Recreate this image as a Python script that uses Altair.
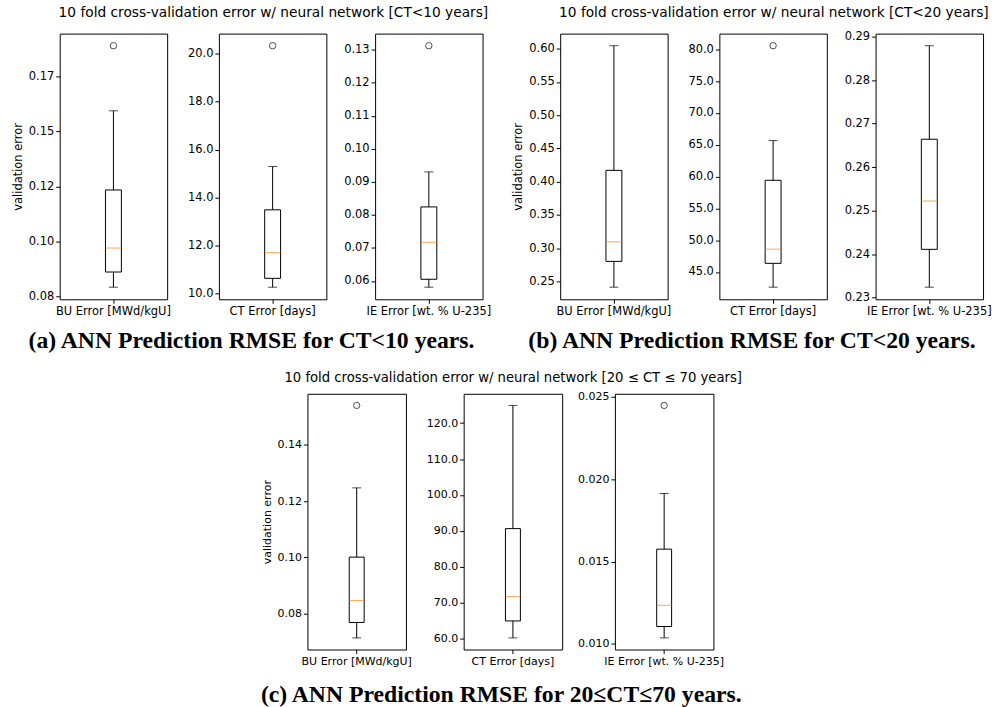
import json
import altair as alt
import pandas as pd

# ---------------- data ----------------
suptitles = [
    "10 fold cross-validation error w/ neural network [CT<10 years]",
    "10 fold cross-validation error w/ neural network [CT<20 years]",
    "10 fold cross-validation error w/ neural network [20 \u2264 CT \u2264 70 years]",
]
captions = [
    "(a) ANN Prediction RMSE for CT<10 years.",
    "(b) ANN Prediction RMSE for CT<20 years.",
    "(c) ANN Prediction RMSE for 20\u2264CT\u226470 years.",
]
metrics = ["BU Error [MWd/kgU]", "CT Error [days]", "IE Error [wt. % U-235]"]

# panel order: (a) BU, CT, IE, (b) BU, CT, IE, (c) BU, CT, IE
whisker_low = [0.0792, 10.26, 0.0581, 0.2415, 42.61, 0.2324, 0.0712, 60.27, 0.01036]
q1 = [0.0861, 10.63, 0.0605, 0.2803, 46.36, 0.2411, 0.0767, 64.98, 0.01105]
median = [0.0970, 11.70, 0.0717, 0.3097, 48.59, 0.2522, 0.0845, 71.73, 0.01234]
q3 = [0.1234, 13.49, 0.0824, 0.4171, 59.41, 0.2664, 0.1000, 90.65, 0.01575]
whisker_high = [0.1594, 15.30, 0.0930, 0.6045, 65.65, 0.2879, 0.1247, 124.9, 0.01913]
outliers = [[0.189], [20.34], [0.1312], [], [80.56], [], [0.1541], [], [0.02448]]

tick_values = [
    [0.075, 0.1, 0.125, 0.15, 0.175],
    [10, 12, 14, 16, 18, 20],
    [0.06, 0.07, 0.08, 0.09, 0.10, 0.11, 0.12, 0.13],
    [0.25, 0.30, 0.35, 0.40, 0.45, 0.50, 0.55, 0.60],
    [45, 50, 55, 60, 65, 70, 75, 80],
    [0.23, 0.24, 0.25, 0.26, 0.27, 0.28, 0.29],
    [0.08, 0.10, 0.12, 0.14],
    [60, 70, 80, 90, 100, 110, 120],
    [0.010, 0.015, 0.020, 0.025],
]
tick_labels = [
    ["0.08", "0.10", "0.12", "0.15", "0.17"],
    ["10.0", "12.0", "14.0", "16.0", "18.0", "20.0"],
    ["0.06", "0.07", "0.08", "0.09", "0.10", "0.11", "0.12", "0.13"],
    ["0.25", "0.30", "0.35", "0.40", "0.45", "0.50", "0.55", "0.60"],
    ["45.0", "50.0", "55.0", "60.0", "65.0", "70.0", "75.0", "80.0"],
    ["0.23", "0.24", "0.25", "0.26", "0.27", "0.28", "0.29"],
    ["0.08", "0.10", "0.12", "0.14"],
    ["60.0", "70.0", "80.0", "90.0", "100.0", "110.0", "120.0"],
    ["0.010", "0.015", "0.020", "0.025"],
]

FONT = "DejaVu Sans"


def panel(i, metric, W, H, fs, show_title, box_w, cap_w, pt_size):
    lo, hi = whisker_low[i], whisker_high[i]
    allv = [lo, hi] + outliers[i]
    dmin, dmax = min(allv), max(allv)
    m = 0.05 * (dmax - dmin)
    yscale = alt.Scale(domain=[dmin - m, dmax + m], nice=False, zero=False)
    vals = tick_values[i]
    labs = tick_labels[i]
    yaxis = alt.Axis(
        values=vals,
        labelExpr=f"{json.dumps(labs)}[indexof({json.dumps(vals)}, datum.value)]",
        grid=False, domain=False, tickSize=4, tickColor="black", tickWidth=1,
        labelColor="black", labelFontSize=fs, labelFont=FONT, labelPadding=2,
        titleFontSize=fs, titleFont=FONT, titleFontWeight="normal",
        titleColor="black", titlePadding=5,
    )
    ytitle = "validation error" if show_title else None
    xenc = alt.X(
        "name:N", title=None,
        scale=alt.Scale(paddingInner=0, paddingOuter=0),
        axis=alt.Axis(labelAngle=0, domain=False, tickSize=4, tickColor="black",
                      tickWidth=1, labelColor="black", labelFontSize=fs,
                      labelFont=FONT, labelPadding=2, labelLimit=400),
    )
    stats = pd.DataFrame({
        "name": [metric], "lo": [lo], "q1": [q1[i]], "med": [median[i]],
        "q3": [q3[i]], "hi": [hi],
    })
    caps = pd.DataFrame({"name": [metric, metric], "v": [lo, hi]})

    def Y(field):
        return alt.Y(f"{field}:Q", scale=yscale, axis=yaxis, title=ytitle)

    base = alt.Chart(stats).encode(x=xenc)
    whisk = base.mark_rule(color="black", strokeWidth=1).encode(y=Y("lo"), y2="hi:Q")
    box = base.mark_bar(size=box_w, fill="white", stroke="black", strokeWidth=1).encode(
        y=Y("q1"), y2="q3:Q")
    med = base.mark_tick(color="#ff7f0e", size=box_w, thickness=1).encode(y=Y("med"))
    capm = alt.Chart(caps).mark_tick(color="black", size=cap_w, thickness=1).encode(
        x=xenc, y=Y("v"))
    layers = [whisk, box, med, capm]
    if outliers[i]:
        outd = pd.DataFrame({"name": [metric] * len(outliers[i]), "v": outliers[i]})
        layers.append(
            alt.Chart(outd).mark_point(shape="circle", filled=False, size=pt_size,
                                       color="black", strokeWidth=1)
            .encode(x=xenc, y=Y("v"))
        )
    return alt.layer(*layers).properties(width=W, height=H)


def group(g, W, H, fs, tfs, box_w, cap_w, pt_size, dx, title_offset, cap_offset,
          spacing):
    panels = [panel(3 * g + k, metrics[k], W, H, fs, k == 0, box_w, cap_w, pt_size)
              for k in range(3)]
    inner = alt.hconcat(
        *panels, spacing=spacing,
        title=alt.TitleParams(suptitles[g], fontSize=tfs, font=FONT,
                              fontWeight="normal", color="black", anchor="middle",
                              dx=dx, offset=title_offset),
    )
    return alt.vconcat(
        inner,
        title=alt.TitleParams(captions[g], orient="bottom", font="Liberation Serif",
                              fontWeight="bold", fontSize=23.8, color="black",
                              anchor="middle", offset=cap_offset),
    )


gA = group(0, 108, 267, 11.5, 13.8, 16, 9, 42, 22, 13, 12, 15)
gB = group(1, 108, 267, 11.5, 13.8, 16, 9, 42, 22, 10, 12, 15)
gC = group(2, 99, 257, 11.05, 13.26, 15, 9, 40, 21, 5, 16, 13)

spacer = (
    alt.Chart(pd.DataFrame({"s": [0]}))
    .mark_point(opacity=0)
    .encode(x=alt.value(0), y=alt.value(0))
    .properties(width=161, height=1, view=alt.ViewBackground(strokeWidth=0))
)

row1 = alt.hconcat(gA, gB, spacing=20)
row2 = alt.hconcat(spacer, gC, spacing=40)

chart = (
    alt.vconcat(row1, row2, spacing=18)
    .properties(padding={"left": 11, "top": 4, "right": 0, "bottom": 0},
                background="white")
    .configure_view(stroke="black", strokeWidth=1)
)

chart.save("out.html", embed_options={"renderer": "svg", "actions": False})
